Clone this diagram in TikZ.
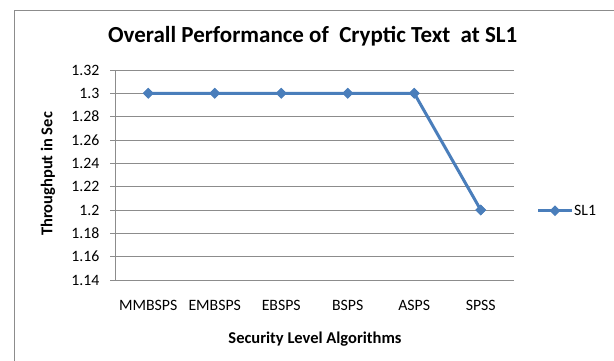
\documentclass[tikz,border=0pt]{standalone}
\usepackage{fontspec}
\setmainfont{Carlito}
\usetikzlibrary{shapes.geometric}
\definecolor{serblue}{HTML}{4A7EBB}
\definecolor{gridgray}{HTML}{8C8C8C}
\definecolor{framegray}{HTML}{8C8C8C}
\begin{document}
\begin{tikzpicture}[x=1pt,y=1pt,
  gridline/.style={draw=gridgray,line width=0.9pt},
  ticklabel/.style={anchor=east,inner sep=0pt,font=\fontsize{15.8}{17}\selectfont},
  catlabel/.style={anchor=center,inner sep=0pt,font=\fontsize{15.8}{17}\selectfont},
  axistitle/.style={inner sep=0pt,font=\fontsize{16.5}{18}\selectfont\bfseries},
  marker/.style={diamond,fill=serblue,draw=none,inner sep=0pt,minimum width=11pt,minimum height=11pt},
  series/.style={draw=serblue,line width=3pt,line join=round}]
\useasboundingbox (0,0) rectangle (614,361);
\clip (0,0) rectangle (614,361);
\fill[white] (0,0) rectangle (614,361);
% chart frame
\draw[framegray,line width=0.9pt] (14,-2) -- (14,351) -- (620,351);
% title
\node[anchor=base,inner sep=0pt,font=\fontsize{23}{26}\selectfont\bfseries] (title) at (312.7,318.3) {Overall Performance of\ \ Cryptic Text\ \ at SL1};
% gridlines and tick labels
\foreach \lab [count=\i from 0] in {1.32,1.3,1.28,1.26,1.24,1.22,1.2,1.18,1.16,1.14}{
  \pgfmathsetmacro{\yy}{291-23.333*\i}
  \draw[gridline] (110,\yy) -- (514,\yy);
  \node[ticklabel] (t\i) at (99.5,\yy) {\lab};
}
\draw[gridline] (115,81) -- (115,291);
% axis titles
\node[axistitle,rotate=90] (ytitle) at (48,187) {Throughput in Sec};
\node[axistitle] (xtitle) at (315,21.7) {Security Level Algorithms};
% categories
\foreach \c [count=\i] in {MMBSPS,EMBSPS,EBSPS,BSPS,ASPS,SPSS}{
  \pgfmathsetmacro{\xx}{115+66.5*(\i-0.5)}
  \node[catlabel] (c\i) at (\xx,55.5) {\c};
}
% data points
\node[marker] (p1) at (148.25,267.67) {};
\node[marker] (p2) at (214.75,267.67) {};
\node[marker] (p3) at (281.25,267.67) {};
\node[marker] (p4) at (347.75,267.67) {};
\node[marker] (p5) at (414.25,267.67) {};
\node[marker] (p6) at (480.75,151) {};
\draw[series] (p1.center) -- (p2.center) -- (p3.center) -- (p4.center) -- (p5.center) -- (p6.center);
\foreach \i in {1,...,6}{\node[marker] at (p\i) {};}
% legend
\coordinate (la) at (538,150.3);
\coordinate (lb) at (572,150.3);
\draw[series] (la) -- (lb);
\node[marker] (lm) at (555,150.3) {};
\node[anchor=west,inner sep=0pt,font=\fontsize{15.8}{17}\selectfont] (ltext) at (574,150.3) {SL1};
\end{tikzpicture}
\end{document}
